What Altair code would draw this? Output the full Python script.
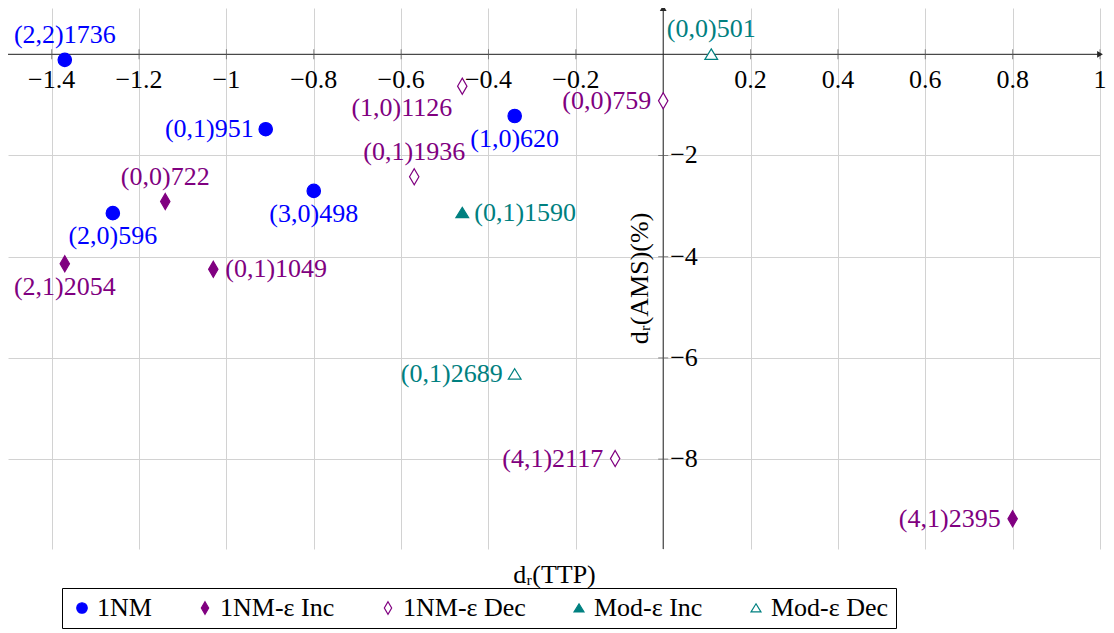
import altair as alt
import pandas as pd

# ---------------- data ----------------
series_names = ["1NM", "1NM-ε Inc", "1NM-ε Dec", "Mod-ε Inc", "Mod-ε Dec"]
series_colors = ["#0000ff", "#800080", "#800080", "#008080", "#008080"]
series_fills = ["#0000ff", "#800080", "#ffffff", "#008080", "#ffffff"]

point_series = ["1NM", "1NM", "1NM", "1NM", "1NM",
                "1NM-ε Inc", "1NM-ε Inc", "1NM-ε Inc", "1NM-ε Inc",
                "1NM-ε Dec", "1NM-ε Dec", "1NM-ε Dec", "1NM-ε Dec",
                "Mod-ε Inc",
                "Mod-ε Dec", "Mod-ε Dec"]
point_labels = ["(2,2)1736", "(0,1)951", "(1,0)620", "(3,0)498", "(2,0)596",
                "(0,0)722", "(2,1)2054", "(0,1)1049", "(4,1)2395",
                "(1,0)1126", "(0,1)1936", "(0,0)759", "(4,1)2117",
                "(0,1)1590",
                "(0,0)501", "(0,1)2689"]
ttp = [-1.37, -0.91, -0.34, -0.80, -1.26,
       -1.14, -1.37, -1.03, 0.80,
       -0.46, -0.57, 0.0, -0.11,
       -0.46,
       0.11, -0.34]
ams = [-0.11, -1.48, -1.22, -2.70, -3.14,
       -2.91, -4.14, -4.25, -9.18,
       -0.63, -2.42, -0.92, -7.99,
       -3.13,
       0.0, -6.32]
label_anchor = ["above", "left", "below", "below", "below",
                "above", "below", "right", "left",
                "below-left", "above", "left", "left",
                "right",
                "above", "left"]

x_grid_values = [-1.4, -1.2, -1.0, -0.8, -0.6, -0.4, -0.2, 0.0, 0.2, 0.4, 0.6, 0.8, 1.0]
x_tick_values = [-1.4, -1.2, -1.0, -0.8, -0.6, -0.4, -0.2, 0.2, 0.4, 0.6, 0.8, 1.0]
x_tick_labels = ["−1.4", "−1.2", "−1", "−0.8", "−0.6", "−0.4", "−0.2",
                 "0.2", "0.4", "0.6", "0.8", "1"]
y_grid_values = [0, -2, -4, -6, -8]
y_tick_values = [-2, -4, -6, -8]
y_tick_labels = ["−2", "−4", "−6", "−8"]

x_domain = [-1.5, 1.0]
y_domain = [-9.777, 0.915]

# ---------------- styling ----------------
FONT = "Liberation Serif"
FS = 26
DIAMOND = "M0,-1.2L0.7,0L0,1.2L-0.7,0Z"
TRIANGLE = "M0,-0.8L0.95,0.75L-0.95,0.75Z"
series_shapes = ["circle", DIAMOND, DIAMOND, TRIANGLE, TRIANGLE]
GRID = "#d2d2d2"
AXIS = "#262626"

pts = pd.DataFrame({"series": point_series, "label": point_labels,
                    "ttp": ttp, "ams": ams, "anchor": label_anchor})
xt = pd.DataFrame({"ttp": x_tick_values, "ams": [0.0] * len(x_tick_values),
                   "lab": x_tick_labels})
yt = pd.DataFrame({"ttp": [0.0] * len(y_tick_values), "ams": y_tick_values,
                   "lab": y_tick_labels})
zero_x = pd.DataFrame({"ttp": [0.0]})
zero_y = pd.DataFrame({"ams": [0.0]})
arrow_r = pd.DataFrame({"ttp": [x_domain[1]], "ams": [0.0]})
arrow_u = pd.DataFrame({"ttp": [0.0], "ams": [y_domain[1]]})

x_enc = alt.X("ttp:Q", scale=alt.Scale(domain=x_domain, nice=False, zero=False),
              axis=alt.Axis(values=x_grid_values, grid=True, gridColor=GRID,
                            gridWidth=1, labels=False, ticks=False, domain=False,
                            title="dᵣ(TTP)", titleFont=FONT, titleFontSize=FS,
                            titleFontWeight="normal", titleColor="black",
                            titleBaseline="middle", titleY=25))
y_enc = alt.Y("ams:Q", scale=alt.Scale(domain=y_domain, nice=False, zero=False),
              axis=alt.Axis(values=y_grid_values, grid=True, gridColor=GRID,
                            gridWidth=1, labels=False, ticks=False, domain=False,
                            title="dᵣ(AMS)(%)", titleFont=FONT, titleFontSize=FS,
                            titleFontWeight="normal", titleColor="black",
                            titleAngle=-90, titleAlign="center",
                            titleBaseline="middle", titleX=631, titleY=270))

leg = alt.Legend(title=None, orient="none", legendX=54, legendY=580,
                 direction="horizontal", columns=5, columnPadding=40,
                 strokeColor="black", padding=7, fillColor="white",
                 labelFont=FONT, labelFontSize=FS, labelColor="black",
                 symbolSize=110, symbolStrokeWidth=1.2, labelOffset=2)

axis_h = alt.Chart(zero_y).mark_rule(color=AXIS, strokeWidth=1).encode(y=y_enc)
axis_v = alt.Chart(zero_x).mark_rule(color=AXIS, strokeWidth=1).encode(x=x_enc)
arr_r = alt.Chart(arrow_r).mark_point(shape="triangle-right", filled=True,
                                      size=45, color=AXIS, opacity=1).encode(x=x_enc, y=y_enc)
arr_u = alt.Chart(arrow_u).mark_point(shape="triangle-up", filled=True,
                                      size=45, color=AXIS, opacity=1).encode(x=x_enc, y=y_enc)

xticks = alt.Chart(xt).mark_tick(orient="vertical", size=10, thickness=1,
                                 color="#555555").encode(x=x_enc, y=y_enc)
yticks = alt.Chart(yt).mark_tick(orient="horizontal", size=10, thickness=1,
                                 color="#555555").encode(x=x_enc, y=y_enc)
xlabels = alt.Chart(xt).mark_text(font=FONT, fontSize=FS, color="black",
                                  baseline="middle", dy=26).encode(x=x_enc, y=y_enc, text="lab:N")
ylabels = alt.Chart(yt).mark_text(font=FONT, fontSize=FS, color="black",
                                  align="left", baseline="middle", dx=7).encode(x=x_enc, y=y_enc, text="lab:N")

points = alt.Chart(pts).mark_point(size=180, strokeWidth=1.2, opacity=1,
                                   fillOpacity=1).encode(
    x=x_enc, y=y_enc,
    shape=alt.Shape("series:N", scale=alt.Scale(domain=series_names, range=series_shapes), legend=leg),
    stroke=alt.Stroke("series:N", scale=alt.Scale(domain=series_names, range=series_colors), legend=leg),
    fill=alt.Fill("series:N", scale=alt.Scale(domain=series_names, range=series_fills), legend=leg),
)

anchor_styles = {
    "above": dict(align="center", baseline="middle", dx=0, dy=-25),
    "below": dict(align="center", baseline="middle", dx=0, dy=23),
    "left": dict(align="right", baseline="middle", dx=-12, dy=0),
    "right": dict(align="left", baseline="middle", dx=12, dy=0),
    "below-left": dict(align="right", baseline="middle", dx=-10, dy=22),
}
label_layers = []
for a, st in anchor_styles.items():
    label_layers.append(
        alt.Chart(pts).transform_filter(alt.datum.anchor == a)
        .mark_text(font=FONT, fontSize=FS, **st)
        .encode(x=x_enc, y=y_enc, text="label:N",
                color=alt.Color("series:N",
                                scale=alt.Scale(domain=series_names, range=series_colors),
                                legend=None))
    )

chart = alt.layer(
    axis_h, axis_v, xticks, yticks, arr_r, arr_u, xlabels, ylabels, points, *label_layers
).properties(
    width=1092, height=541,
    autosize=alt.AutoSizeParams(type="none"),
    padding={"left": 0, "top": 0, "right": 6, "bottom": 82},
    background="white",
).configure_view(stroke=None)

chart.save("out.html", embed_options={"renderer": "svg", "actions": False})
